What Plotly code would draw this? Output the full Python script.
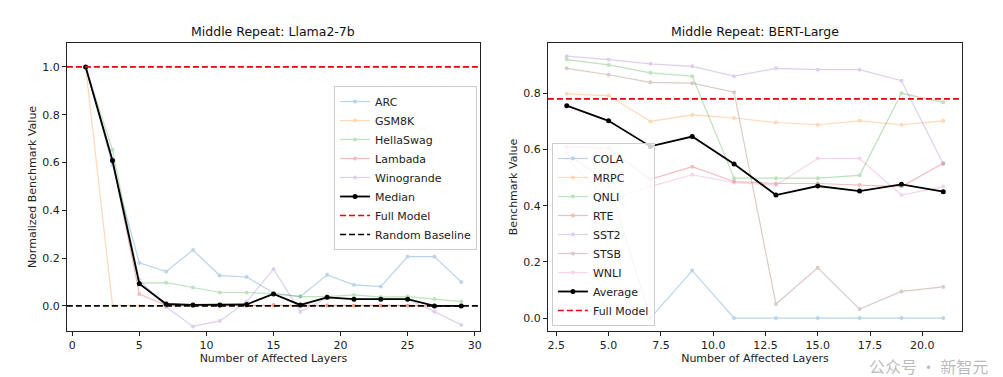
import plotly.graph_objects as go

# ---------------- data: left panel (Llama2-7b) ----------------
layers_llama = [1, 3, 5, 7, 9, 11, 13, 15, 17, 19, 21, 23, 25, 27, 29]
arc = [1.0, 0.59, 0.18, 0.144, 0.234, 0.127, 0.121, 0.054, 0.039, 0.13, 0.088, 0.081, 0.206, 0.206, 0.10]
gsm8k = [1.0, 0.003, 0.0, 0.0, 0.0, 0.0, 0.0, 0.0, 0.0, 0.0, 0.0, 0.0, 0.0, 0.0, 0.0]
hellaswag = [1.0, 0.653, 0.095, 0.097, 0.077, 0.056, 0.056, 0.05, 0.039, 0.039, 0.046, 0.037, 0.039, 0.029, 0.018]
lambada = [1.0, 0.608, 0.05, 0.002, 0.002, 0.002, 0.002, 0.005, 0.002, 0.003, 0.002, 0.002, 0.002, 0.0, 0.0]
winogrande = [1.0, 0.60, 0.11, -0.005, -0.086, -0.063, 0.017, 0.154, -0.024, 0.034, 0.028, 0.028, 0.028, -0.024, -0.08]
median = [1.0, 0.608, 0.093, 0.008, 0.004, 0.004, 0.006, 0.05, 0.004, 0.036, 0.028, 0.028, 0.028, 0.0, 0.0]
full_model_llama = 1.0
random_baseline = 0.0

# ---------------- data: right panel (BERT-Large) ----------------
layers_bert = [3, 5, 7, 9, 11, 13, 15, 17, 19, 21]
cola = [0.586, 0.482, 0.0, 0.169, 0.0, 0.0, 0.0, 0.0, 0.0, 0.0]
mrpc = [0.798, 0.792, 0.70, 0.723, 0.712, 0.696, 0.688, 0.702, 0.688, 0.702]
qnli = [0.920, 0.901, 0.873, 0.861, 0.498, 0.498, 0.498, 0.508, 0.80, 0.768]
rte = [0.61, 0.604, 0.494, 0.539, 0.486, 0.479, 0.479, 0.474, 0.468, 0.551]
sst2 = [0.932, 0.920, 0.905, 0.896, 0.861, 0.889, 0.884, 0.884, 0.845, 0.548]
stsb = [0.889, 0.866, 0.839, 0.836, 0.804, 0.05, 0.179, 0.032, 0.095, 0.111]
wnli = [0.568, 0.42, 0.468, 0.51, 0.482, 0.473, 0.568, 0.568, 0.438, 0.468]
average = [0.756, 0.702, 0.611, 0.646, 0.548, 0.438, 0.47, 0.452, 0.476, 0.45]
full_model_bert = 0.78

# ---------------- styling ----------------
W, H = 1003, 377
OFF = 8  # default page body margin
FONT = "DejaVu Sans"
C = ["#1f77b4", "#ff7f0e", "#2ca02c", "#d62728", "#9467bd", "#8c564b", "#e377c2"]
FAINT_OPACITY = 0.3


def px_x(p):
    return (p - OFF) / W


def px_y(p):
    return (H - (p - OFF)) / H


fig = go.Figure()

left_series = [("ARC", arc), ("GSM8K", gsm8k), ("HellaSwag", hellaswag),
               ("Lambada", lambada), ("Winogrande", winogrande)]
for i, (name, vals) in enumerate(left_series):
    fig.add_trace(go.Scatter(
        x=layers_llama, y=vals, name=name, mode="lines+markers",
        line=dict(color=C[i], width=1.2), marker=dict(size=4, color=C[i]),
        opacity=FAINT_OPACITY, xaxis="x", yaxis="y", legend="legend"))
fig.add_trace(go.Scatter(
    x=layers_llama, y=median, name="Median", mode="lines+markers",
    line=dict(color="black", width=1.8), marker=dict(size=5, color="black"),
    xaxis="x", yaxis="y", legend="legend"))
fig.add_trace(go.Scatter(x=[None], y=[None], name="Full Model", mode="lines",
                         line=dict(color="#e8000b", width=1.6, dash="6px,3px"),
                         xaxis="x", yaxis="y", legend="legend"))
fig.add_trace(go.Scatter(x=[None], y=[None], name="Random Baseline", mode="lines",
                         line=dict(color="black", width=1.6, dash="6px,3px"),
                         xaxis="x", yaxis="y", legend="legend"))

right_series = [("COLA", cola), ("MRPC", mrpc), ("QNLI", qnli), ("RTE", rte),
                ("SST2", sst2), ("STSB", stsb), ("WNLI", wnli)]
for i, (name, vals) in enumerate(right_series):
    fig.add_trace(go.Scatter(
        x=layers_bert, y=vals, name=name, mode="lines+markers",
        line=dict(color=C[i], width=1.2), marker=dict(size=4, color=C[i]),
        opacity=FAINT_OPACITY, xaxis="x2", yaxis="y2", legend="legend2"))
fig.add_trace(go.Scatter(
    x=layers_bert, y=average, name="Average", mode="lines+markers",
    line=dict(color="black", width=1.8), marker=dict(size=5, color="black"),
    xaxis="x2", yaxis="y2", legend="legend2"))
fig.add_trace(go.Scatter(x=[None], y=[None], name="Full Model", mode="lines",
                         line=dict(color="#e8000b", width=1.6, dash="6px,3px"),
                         xaxis="x2", yaxis="y2", legend="legend2"))

# reference lines (span the whole axis width)
fig.add_shape(type="line", xref="x domain", yref="y", x0=0, x1=1,
              y0=full_model_llama, y1=full_model_llama,
              line=dict(color="#e8000b", width=1.6, dash="6px,3px"))
fig.add_shape(type="line", xref="x domain", yref="y", x0=0, x1=1,
              y0=random_baseline, y1=random_baseline,
              line=dict(color="black", width=1.6, dash="6px,3px"))
fig.add_shape(type="line", xref="x2 domain", yref="y2", x0=0, x1=1,
              y0=full_model_bert, y1=full_model_bert,
              line=dict(color="#e8000b", width=1.6, dash="6px,3px"))

axis_common = dict(showline=True, mirror=True, linecolor="#222", linewidth=1,
                   ticks="outside", ticklen=4, tickwidth=1, tickcolor="#222",
                   showgrid=False, zeroline=False,
                   tickfont=dict(family=FONT, size=11, color="#222"))

xd1 = [px_x(67), px_x(481)]
xd2 = [px_x(549), px_x(964)]
yd = [px_y(331), px_y(43)]

fig.update_layout(
    width=W, height=H,
    margin=dict(l=0, r=0, t=0, b=0),
    paper_bgcolor="white", plot_bgcolor="white",
    font=dict(family=FONT, size=11, color="#222"),
    xaxis=dict(domain=xd1, range=[-0.4, 30.4], tickvals=[0, 5, 10, 15, 20, 25, 30],
               title=dict(text="Number of Affected Layers", standoff=2,
                          font=dict(family=FONT, size=11)),
               anchor="y", **axis_common),
    yaxis=dict(domain=yd, range=[-0.105, 1.10], tickvals=[0, 0.2, 0.4, 0.6, 0.8, 1.0],
               tickformat=".1f",
               title=dict(text="Normalized Benchmark Value", standoff=3,
                          font=dict(family=FONT, size=11)),
               anchor="x", **axis_common),
    xaxis2=dict(domain=xd2, range=[2.1, 21.9],
                tickvals=[2.5, 5.0, 7.5, 10.0, 12.5, 15.0, 17.5, 20.0], tickformat=".1f",
                title=dict(text="Number of Affected Layers", standoff=2,
                           font=dict(family=FONT, size=11)),
                anchor="y2", **axis_common),
    yaxis2=dict(domain=yd, range=[-0.046, 0.979], tickvals=[0, 0.2, 0.4, 0.6, 0.8],
                tickformat=".1f",
                title=dict(text="Benchmark Value", standoff=3,
                           font=dict(family=FONT, size=11)),
                anchor="x2", **axis_common),
    legend=dict(x=px_x(478), xanchor="right", y=px_y(250), yanchor="bottom",
                bgcolor="rgba(255,255,255,0.8)", bordercolor="#cccccc", borderwidth=1,
                font=dict(family=FONT, size=11, color="#222"), itemwidth=30,
                tracegroupgap=0),
    legend2=dict(x=px_x(553), xanchor="left", y=px_y(326), yanchor="bottom",
                 bgcolor="rgba(255,255,255,0.8)", bordercolor="#cccccc", borderwidth=1,
                 font=dict(family=FONT, size=11, color="#222"), itemwidth=30,
                 tracegroupgap=0),
    showlegend=True,
)

fig.add_annotation(text="Middle Repeat: Llama2-7b", xref="paper", yref="paper",
                   x=sum(xd1) / 2, y=yd[1], xanchor="center", yanchor="bottom",
                   yshift=2, showarrow=False, font=dict(family=FONT, size=12.5, color="#111"))
fig.add_annotation(text="Middle Repeat: BERT-Large", xref="paper", yref="paper",
                   x=sum(xd2) / 2, y=yd[1], xanchor="center", yanchor="bottom",
                   yshift=2, showarrow=False, font=dict(family=FONT, size=12.5, color="#111"))

# watermark overlay (kept in the free bottom-right corner)
fig.add_annotation(text="公众号 · 新智元", xref="paper", yref="paper",
                   x=px_x(930), y=px_y(366), xanchor="center", yanchor="middle",
                   showarrow=False, borderpad=0,
                   font=dict(family="Noto Sans CJK SC", size=16, color="rgba(140,140,140,0.6)"))

fig.write_html("out.html")
